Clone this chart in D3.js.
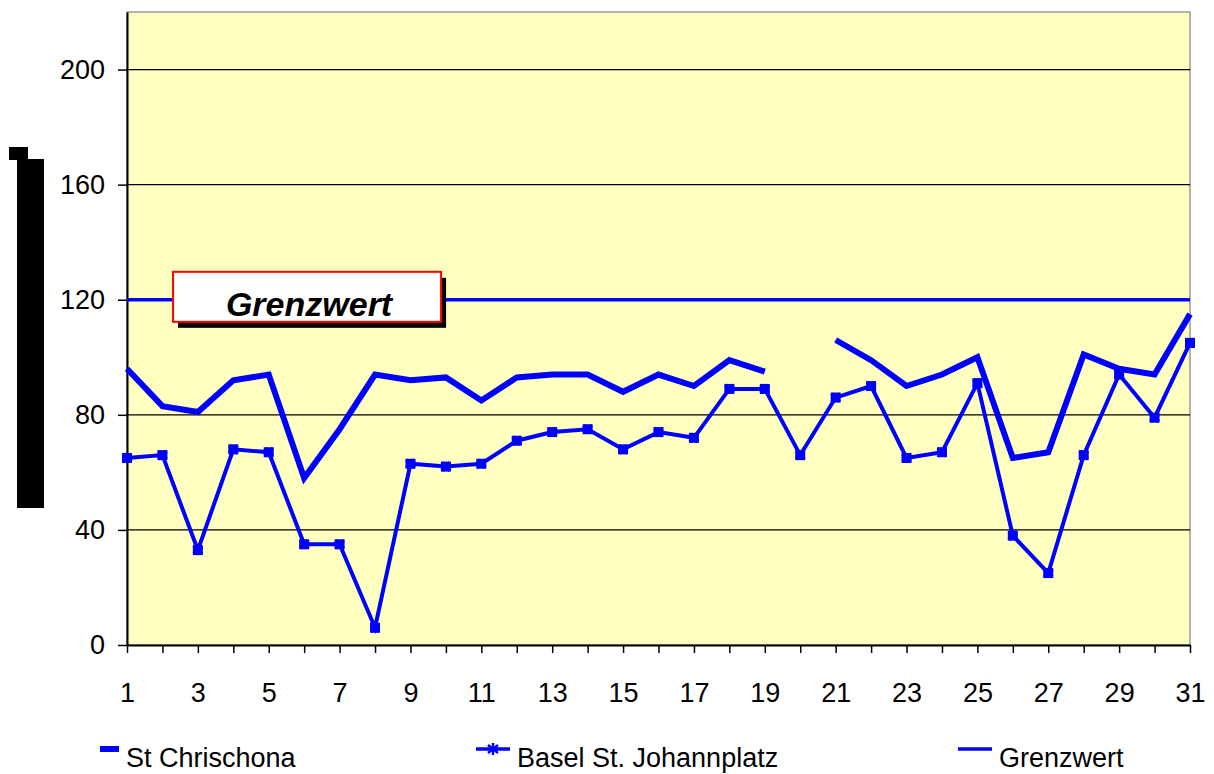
<!DOCTYPE html>
<html>
<head>
<meta charset="utf-8">
<script src="https://cdn.jsdelivr.net/npm/d3@7"></script>
<style>
  body { margin: 0; background: #fff; }
  svg text { font-family: "Liberation Sans", Arial, sans-serif; }
</style>
</head>
<body>
<div id="chart"></div>
<script>
// ============ DATA ============ //
const days = d3.range(1, 32);
const chrischona = [96, 83, 81, 92, 94, 58, 75, 94, 92, 93, 85, 93, 94, 94, 88, 94, 90, 99, 95, null,
  106, 99, 90, 94, 100, 65, 67, 101, 96, 94, 115];
const johannplatz = [65, 66, 33, 68, 67, 35, 35, 6, 63, 62, 63, 71, 74, 75, 68, 74, 72, 89, 89, 66,
  86, 90, 65, 67, 91, 38, 25, 66, 94, 79, 105];
const grenzwert = days.map(() => 120);
const yTicks = [0, 40, 80, 120, 160, 200];
const xTickLabels = d3.range(1, 32, 2);
const seriesNames = ["St Chrischona", "Basel St. Johannplatz", "Grenzwert"];

const blue = "#0000ff";
const fontSize = 27;

// ============ SETUP ============ //
const W = 1214, H = 774;
const margin = {top: 12, left: 127, right: 24, bottom: 129};
const width = W - margin.left - margin.right,
      height = H - margin.top - margin.bottom;

const svg = d3.select("#chart").append("svg")
  .attr("width", W).attr("height", H);

const x = d3.scaleLinear().domain([1, 31]).range([0, width]);
const y = d3.scaleLinear().domain([0, 220]).range([height, 0]);

const g = svg.append("g")
  .attr("transform", `translate(${margin.left},${margin.top})`);

// plot background
g.append("rect")
  .attr("width", width).attr("height", height)
  .attr("fill", "#ffffc0")
  .attr("stroke", "#999").attr("stroke-width", 1.5);

// gridlines
g.selectAll(".grid").data(yTicks.filter(d => d > 0)).enter().append("line")
  .attr("x1", 0).attr("x2", width)
  .attr("y1", d => y(d)).attr("y2", d => y(d))
  .attr("stroke", "#000").attr("stroke-width", 1.2);

// y axis
const yAxis = g.append("g")
  .call(d3.axisLeft(y).tickValues(yTicks).tickSize(9).tickSizeOuter(0).tickPadding(13));
yAxis.select(".domain").attr("stroke-width", 2);
yAxis.selectAll(".tick line").attr("stroke-width", 1.5);
yAxis.selectAll("text").attr("font-size", fontSize).attr("fill", "#000")
  .attr("font-family", "Liberation Sans, Arial, sans-serif");

// x axis
const xAxis = g.append("g")
  .attr("transform", `translate(0,${height})`)
  .call(d3.axisBottom(x).tickValues(days).tickSize(8).tickSizeOuter(0).tickPadding(30)
    .tickFormat(d => xTickLabels.includes(d) ? d : ""));
xAxis.select(".domain").attr("stroke-width", 2);
xAxis.selectAll(".tick line").attr("stroke-width", 1.5);
xAxis.selectAll("text").attr("font-size", fontSize).attr("fill", "#000")
  .attr("font-family", "Liberation Sans, Arial, sans-serif");

// ============ LINES ============ //
const line = d3.line()
  .defined(d => d.v != null)
  .x(d => x(d.day)).y(d => y(d.v));

const toPts = arr => arr.map((v, i) => ({day: days[i], v: v}));

g.append("path").datum(toPts(grenzwert))
  .attr("d", line).attr("fill", "none")
  .attr("stroke", blue).attr("stroke-width", 3.5);

g.append("path").datum(toPts(chrischona))
  .attr("d", line).attr("fill", "none")
  .attr("stroke", blue).attr("stroke-width", 6)
  .attr("stroke-linejoin", "miter");

g.append("path").datum(toPts(johannplatz))
  .attr("d", line).attr("fill", "none")
  .attr("stroke", blue).attr("stroke-width", 4);

function drawMarker(sel, cx, cy) {
  sel.append("rect")
    .attr("x", cx - 5).attr("y", cy - 5)
    .attr("width", 10).attr("height", 10)
    .attr("fill", blue);
  const star = d3.symbol().type(d3.symbolCross).size(70);
  sel.append("path")
    .attr("d", star())
    .attr("transform", `translate(${cx},${cy}) rotate(45)`)
    .attr("fill", blue);
}

const markers = g.append("g");
toPts(johannplatz).forEach(d => drawMarker(markers, x(d.day), y(d.v)));

// ============ ANNOTATION ============ //
const boxX = x(2.3), boxY = y(129.7);
const boxW = 268, boxH = 50;
g.append("rect")
  .attr("x", boxX + 5).attr("y", boxY + 6)
  .attr("width", boxW).attr("height", boxH)
  .attr("fill", "#000");
g.append("rect")
  .attr("x", boxX).attr("y", boxY)
  .attr("width", boxW).attr("height", boxH)
  .attr("fill", "#fff").attr("stroke", "#ff0000").attr("stroke-width", 2);
g.append("text")
  .attr("x", boxX + boxW / 2 + 2).attr("y", boxY + 44)
  .attr("text-anchor", "middle")
  .attr("font-size", 34).attr("font-weight", "bold").attr("font-style", "italic")
  .text("Grenzwert");

// ============ Y TITLE (rendered as black block) ============ //
svg.append("rect").attr("x", 9).attr("y", 147).attr("width", 19).attr("height", 13).attr("fill", "#000");
svg.append("rect").attr("x", 17).attr("y", 159).attr("width", 27).attr("height", 349).attr("fill", "#000");

// ============ LEGEND ============ //
const legendX = [100, 476, 958];
const legend = svg.append("g");
seriesNames.forEach((name, i) => {
  const lx = legendX[i], ly = 749;
  const lw = i === 0 ? 19 : 34;
  legend.append("line")
    .attr("x1", lx).attr("x2", lx + lw)
    .attr("y1", ly).attr("y2", ly)
    .attr("stroke", blue).attr("stroke-width", i === 0 ? 6 : 3.5);
  if (i === 1) {
    const cx = lx + 17, cy = ly;
    [[0, -6, 0, 6], [-5, -4, 5, 4], [-5, 4, 5, -4]].forEach(s => {
      legend.append("line")
        .attr("x1", cx + s[0]).attr("y1", cy + s[1])
        .attr("x2", cx + s[2]).attr("y2", cy + s[3])
        .attr("stroke", blue).attr("stroke-width", 2.5);
    });
  }
  legend.append("text")
    .attr("x", lx + lw + 7).attr("y", 767)
    .attr("font-size", fontSize)
    .text(name);
});
</script>
</body>
</html>
